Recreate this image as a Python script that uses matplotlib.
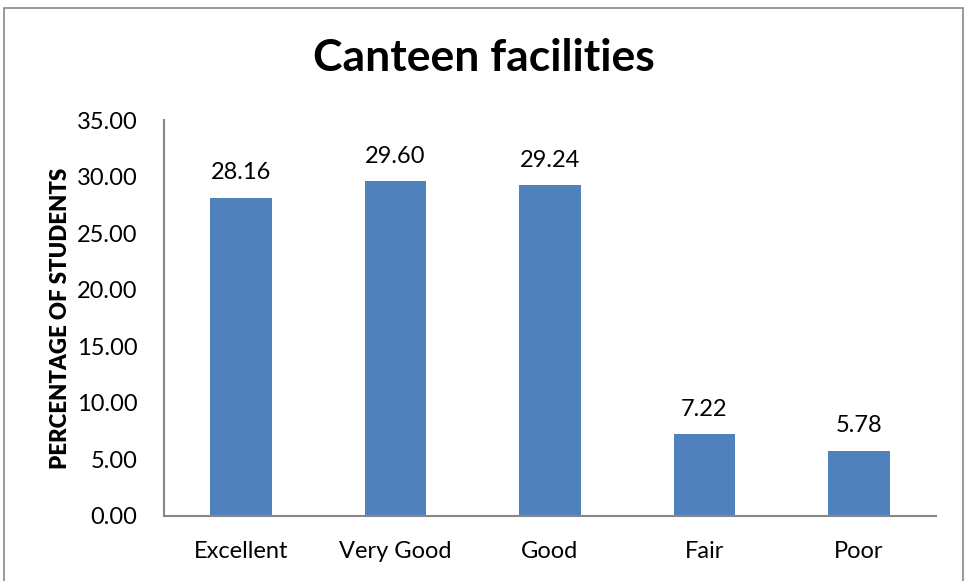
import numpy as np
import matplotlib.pyplot as plt
from matplotlib.patches import Rectangle

categories = ["Excellent", "Very Good", "Good", "Fair", "Poor"]
values = [28.16, 29.60, 29.24, 7.22, 5.78]
yticks = [0, 5, 10, 15, 20, 25, 30, 35]

plt.rcParams['font.family'] = ['Lato', 'DejaVu Sans']

fig = plt.figure(figsize=(9.64, 5.81), dpi=100)
ax = fig.add_axes([0.170, 0.112, 0.801, 0.681])

x = np.arange(len(categories))
bars = ax.bar(x, values, width=0.40, color='#4f81bd')
for xi, v in zip(x, values):
    ax.text(xi, v + 1.3, "{:.2f}".format(v), ha='center', va='bottom', fontsize=17)

ax.set_xlim(-0.5, len(categories) - 0.5)
ax.set_ylim(0, 35)
ax.set_yticks(yticks)
ax.set_yticklabels(["{:.2f}".format(t) for t in yticks], fontsize=17)
ax.set_xticks(x)
ax.set_xticklabels(categories, fontsize=17)
ax.tick_params(axis='y', length=0, pad=19)
ax.tick_params(axis='x', length=0, pad=18)

for s in ['top', 'right']:
    ax.spines[s].set_visible(False)
for s in ['left', 'bottom']:
    ax.spines[s].set_color('#878787')
    ax.spines[s].set_linewidth(1.5)

ax.set_ylabel("PERCENTAGE OF STUDENTS", fontsize=16, fontweight='heavy', labelpad=4)
fig.text(0.502, 0.90, "Canteen facilities", ha='center', va='center',
         fontsize=32, fontweight='bold')

fig.patches.append(Rectangle((4 / 964, -0.01), 959 / 964, 1 - 8 / 581 + 0.01,
                             transform=fig.transFigure, fill=False,
                             edgecolor='#878787', linewidth=1.2))

fig.savefig("out.png", dpi=100)
